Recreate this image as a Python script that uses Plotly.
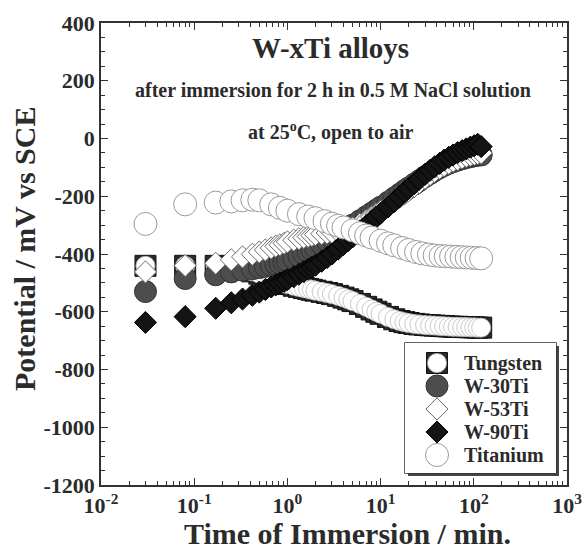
import plotly.graph_objects as go

# ---------------- data ----------------
# time of immersion (min) for densely sampled series
t_dense = [0.03, 0.08, 0.17, 0.25, 0.33, 0.42, 0.5, 0.58, 0.67, 0.75, 0.83, 0.92, 1.0,
           1.17, 1.33, 1.5, 1.67, 1.83, 2.0, 2.33, 2.67, 3.0, 3.5, 4, 4.5, 5, 6, 7, 8, 9,
           10, 12, 14, 16, 18, 20, 23, 26, 30, 34, 38, 43, 48, 54, 60, 67, 75, 83, 92,
           101, 110, 120]

tungsten = [-441, -441, -441, -445, -452, -460, -468, -476, -484, -490, -496, -500, -504,
            -510, -514, -518, -521, -524, -527, -531, -535, -539, -545, -551, -557, -563,
            -573, -583, -592, -600, -607, -618, -626, -632, -636, -639, -642, -644, -646,
            -647, -648, -649, -650, -651, -652, -652, -653, -653, -654, -654, -655, -655]

w30ti = [-530, -485, -472, -462, -456, -451, -447, -443, -439, -435, -431, -427, -423,
         -415, -407, -399, -392, -385, -378, -366, -355, -345, -332, -320, -310, -300,
         -285, -271, -259, -248, -238, -221, -206, -193, -181, -171, -158, -146, -132,
         -121, -111, -101, -93, -86, -80, -75, -70, -66, -63, -60, -58, -57]

w53ti = [-462, -440, -432, -420, -410, -401, -393, -386, -379, -373, -368, -363, -358,
         -352, -347, -343, -339, -336, -333, -330, -327, -325, -322, -320, -315, -310,
         -297, -284, -272, -262, -252, -234, -218, -204, -192, -181, -166, -153, -138,
         -125, -114, -103, -94, -86, -79, -73, -67, -62, -58, -55, -52, -50]

w90ti = [-637, -617, -588, -569, -556, -543, -532, -523, -514, -507, -501, -495, -489,
         -479, -470, -461, -453, -446, -439, -425, -412, -400, -383, -367, -353, -341,
         -320, -302, -286, -272, -259, -237, -218, -201, -186, -173, -156, -141, -124,
         -110, -98, -86, -75, -65, -57, -49, -42, -36, -30, -25, -20, -28]

t_ti = [0.03, 0.08, 0.17, 0.25, 0.33, 0.42, 0.5, 0.67, 0.83, 1.0, 1.33, 1.67, 2.0, 2.5,
        3.0, 3.5, 4, 5, 6, 7, 8, 10, 12, 14, 17, 20, 24, 28, 33, 38, 44, 50, 57, 65, 74,
        84, 95, 107, 120]
titanium = [-296, -228, -222, -218, -214, -212, -214, -228, -240, -250, -262, -270, -276,
            -286, -295, -302, -308, -318, -328, -336, -343, -354, -363, -370, -379, -386,
            -393, -398, -402, -405, -407, -408, -409, -410, -411, -412, -413, -414, -415]

legend_names = ["Tungsten", "W-30Ti", "W-53Ti", "W-90Ti", "Titanium"]
x_tickvals = [0.01, 0.1, 1, 10, 100, 1000]
x_ticktext = ["<b>10<sup>-2</sup></b>", "<b>10<sup>-1</sup></b>", "<b>10<sup>0</sup></b>",
              "<b>10<sup>1</sup></b>", "<b>10<sup>2</sup></b>", "<b>10<sup>3</sup></b>"]
y_tickvals = [400, 200, 0, -200, -400, -600, -800, -1000, -1200]
y_ticktext = ["<b>400</b>", "<b>200</b>", "<b>0</b>", "<b>-200</b>", "<b>-400</b>",
              "<b>-600</b>", "<b>-800</b>", "<b>-1000</b>", "<b>-1200</b>"]

# ---------------- styles ----------------
FONT = "Liberation Serif"
TXT = "#2b2b2b"
sq_style = dict(symbol="square", size=21, color="#2a2a2a", line=dict(color="#111", width=1))
wc_style = dict(symbol="circle", size=19, color="white", line=dict(color="#bbbbbb", width=0.8))
c30_style = dict(symbol="circle", size=22, color="#4d4d4d", line=dict(color="#333", width=1))
d53_style = dict(symbol="diamond", size=17, color="white", line=dict(color="#6a6a6a", width=1))
d90_style = dict(symbol="diamond", size=17, color="#141414", line=dict(color="#000", width=1))
ti_style = dict(symbol="circle", size=23, color="white", line=dict(color="#9a9a9a", width=1))

fig = go.Figure()
fig.add_trace(go.Scatter(x=t_dense, y=tungsten, mode="markers", marker=sq_style, showlegend=False))
fig.add_trace(go.Scatter(x=t_dense, y=tungsten, mode="markers", marker=wc_style, showlegend=False))
fig.add_trace(go.Scatter(x=t_dense, y=w30ti, mode="markers", marker=c30_style, showlegend=False))
fig.add_trace(go.Scatter(x=t_dense, y=w53ti, mode="markers", marker=d53_style, showlegend=False))
fig.add_trace(go.Scatter(x=t_dense, y=w90ti, mode="markers", marker=d90_style, showlegend=False))
fig.add_trace(go.Scatter(x=t_ti, y=titanium, mode="markers", marker=ti_style, showlegend=False))

# ---------------- custom legend (overlay axes, pixel units) ----------------
W, H = 582, 552
L, R, T, B = 101, 15, 23, 67
pw, ph = W - L - R, H - T - B
def px(x):
    return (x - L) / pw
def py(y):
    return 1 - (y - T) / ph

lx0, lx1, ly0, ly1 = 405, 556, 343, 473
leg_y = [363, 386, 409, 432, 455]
leg_mx = 437
leg_tx = 462
leg_styles = [[sq_style, wc_style], [c30_style], [d53_style], [d90_style], [ti_style]]
for styles, yy in zip(leg_styles, leg_y):
    for st in styles:
        fig.add_trace(go.Scatter(x=[leg_mx], y=[yy], mode="markers", marker=st,
                                 xaxis="x2", yaxis="y2", showlegend=False))
for name, yy in zip(legend_names, leg_y):
    fig.add_annotation(x=leg_tx, y=yy, xref="x2", yref="y2", text="<b>%s</b>" % name,
                       showarrow=False, xanchor="left", yanchor="middle",
                       font=dict(family=FONT, size=20, color=TXT))

shapes = [
    dict(type="rect", xref="paper", yref="paper", x0=px(lx0 + 3), x1=px(lx1 + 3),
         y0=py(ly1 + 3), y1=py(ly0 + 3), line=dict(width=0), fillcolor="#444", layer="below"),
    dict(type="rect", xref="paper", yref="paper", x0=px(lx0), x1=px(lx1),
         y0=py(ly1), y1=py(ly0), line=dict(color="#333", width=1.5), fillcolor="white", layer="below"),
]

# ---------------- annotations ----------------
ann = [
    dict(x=px(330), y=py(48), text="<b>W-xTi alloys</b>", font_size=29),
    dict(x=px(333), y=py(90), text="<b>after immersion for 2 h in 0.5 M NaCl solution</b>", font_size=20),
    dict(x=px(330), y=py(131), text="<b>at 25<sup>o</sup>C, open to air</b>", font_size=20),
    dict(x=px(24), y=py(249), text="<b>Potential / mV vs SCE</b>", textangle=-90, font_size=30),
    dict(x=px(347), y=py(533), text="<b>Time of Immersion / min.</b>", font_size=30),
]
for a in ann:
    fs = a.pop("font_size")
    fig.add_annotation(xref="paper", yref="paper", showarrow=False, xanchor="center",
                       yanchor="middle", font=dict(family=FONT, size=fs, color=TXT), **a)

axis_common = dict(showline=True, linecolor="#333", linewidth=1.5, mirror="ticks",
                   ticks="inside", tickcolor="#333", tickwidth=1.2, ticklen=7,
                   showgrid=False, zeroline=False, ticklabeloverflow="allow",
                   automargin=False,
                   tickfont=dict(family=FONT, size=22, color=TXT))

fig.update_layout(
    width=W, height=H, margin=dict(l=L, r=R, t=T, b=B, autoexpand=False),
    paper_bgcolor="white", plot_bgcolor="white",
    xaxis=dict(type="log", range=[-2, 3], tickvals=x_tickvals, ticktext=x_ticktext,
               ticklabelstandoff=0,
               minor=dict(ticks="inside", ticklen=4, tickcolor="#333", dtick="D1", showgrid=False),
               **axis_common),
    yaxis=dict(range=[-1200, 400], tickvals=y_tickvals, ticktext=y_ticktext,
               minor=dict(ticks="inside", ticklen=4, tickcolor="#333", dtick=50, showgrid=False),
               **axis_common),
    xaxis2=dict(domain=[px(lx0), px(lx1)], range=[lx0, lx1], visible=False, anchor="y2"),
    yaxis2=dict(domain=[py(ly1), py(ly0)], range=[ly1, ly0], visible=False, anchor="x2"),
    shapes=shapes,
    showlegend=False,
)

fig.write_html("out.html", config={"displayModeBar": False},
               post_script="document.body.style.margin='0px';")
